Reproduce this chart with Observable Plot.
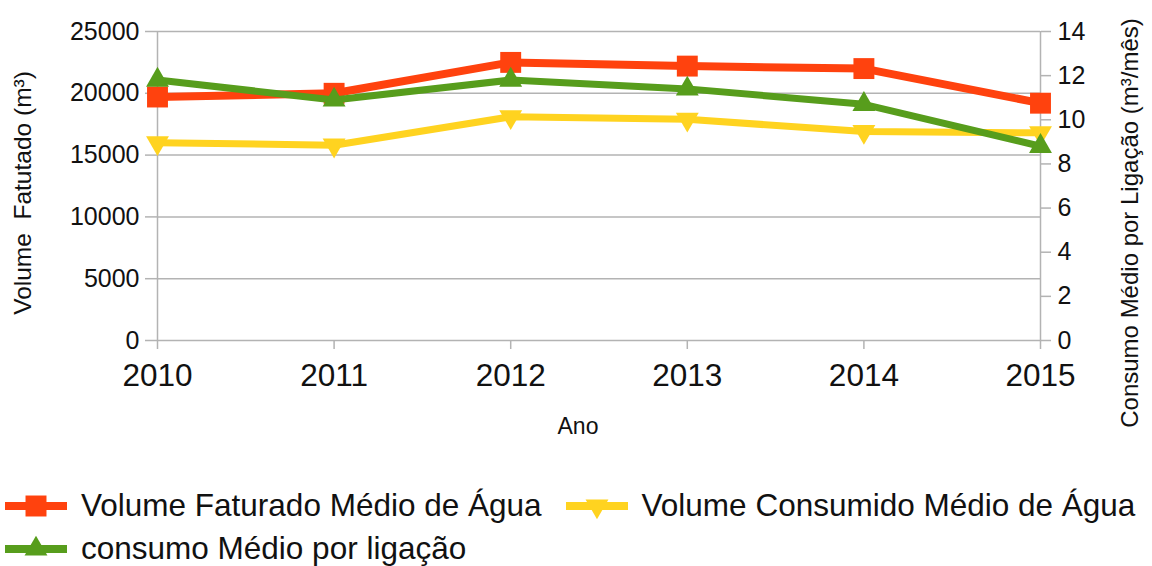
<!DOCTYPE html>
<html>
<head>
<meta charset="utf-8">
<script src="https://cdn.jsdelivr.net/npm/d3@7"></script>
<script src="https://cdn.jsdelivr.net/npm/@observablehq/plot@0.6"></script>
<style>
  html, body { margin: 0; padding: 0; background: #fff; }
  body { width: 1152px; height: 566px; overflow: hidden; font-family: "Liberation Sans", Arial, sans-serif; }
  #legend { padding-top: 14px; padding-left: 5px; }
  .row { display: flex; align-items: center; height: 43px; }
  .item { display: flex; align-items: center; margin-right: 24px; }
  .item svg { display: block; }
  .item span { font-size: 31.5px; color: #111; margin-left: 14px; white-space: nowrap; }
</style>
</head>
<body>
<div id="chart"></div>
<div id="legend"></div>
<script>
// ---- data ----
const years = [2010, 2011, 2012, 2013, 2014, 2015];
const volumeFaturado = [19700, 20000, 22500, 22200, 22000, 19200];   // m³ (left axis)
const volumeConsumido = [16000, 15800, 18100, 17900, 16900, 16800];  // m³ (left axis)
const consumoLigacao = [11.8, 10.9, 11.8, 11.4, 10.7, 8.8];          // m³/mês (right axis)
const leftTicks = [0, 5000, 10000, 15000, 20000, 25000];
const rightTicks = [0, 2, 4, 6, 8, 10, 12, 14];
const seriesNames = ["Volume Faturado Médio de Água", "Volume Consumido Médio de Água", "consumo Médio por ligação"];
const colors = ["#ff420e", "#ffd320", "#579d1c"];
const xLabel = "Ano";
const yLeftLabel = "Volume  Fatutado (m³)";
const yRightLabel = "Consumo Médio por Ligação (m³/mês)";

const leftMax = 25000, rightMax = 14;
const toLeft = v => v * leftMax / rightMax;

const faturado = years.map((x, i) => ({x, y: volumeFaturado[i]}));
const consumido = years.map((x, i) => ({x, y: volumeConsumido[i]}));
const ligacao = years.map((x, i) => ({x, y: toLeft(consumoLigacao[i])}));

const gray = "#b3b3b3";
const ink = "#111";
const W = 1152, H = 470;

const chart = Plot.plot({
  width: W,
  height: H,
  marginLeft: 157,
  marginRight: 112,
  marginTop: 31,
  marginBottom: H - 340,
  style: {fontFamily: "'Liberation Sans', Arial, sans-serif", background: "#fff", color: ink},
  x: {domain: d3.extent(years)},
  y: {domain: [0, leftMax]},
  marks: [
    Plot.gridY(leftTicks, {stroke: gray, strokeOpacity: 1, strokeWidth: 1.5}),
    Plot.ruleX(d3.extent(years), {stroke: gray, strokeWidth: 1.5}),
    Plot.axisX(years, {tickFormat: "d", tickSize: 9, tickPadding: 14, fontSize: 31.5, stroke: gray, strokeWidth: 1.5, fill: ink, label: null}),
    Plot.axisY(leftTicks, {anchor: "left", tickSize: 12, tickPadding: 6, fontSize: 25, stroke: gray, strokeWidth: 1.5, fill: ink,
      tickFormat: d => String(d), label: null}),
    Plot.axisY(rightTicks.map(toLeft), {anchor: "right", tickSize: 10, tickPadding: 7, fontSize: 25, stroke: gray, strokeWidth: 1.5, fill: ink,
      tickFormat: d => String(Math.round(d * rightMax / leftMax)), label: null}),
    Plot.text([xLabel], {frameAnchor: "bottom", text: d => d, fontSize: 23, fill: ink, textAnchor: "middle", lineAnchor: "middle", dy: 86, dx: -21}),
    Plot.text([yLeftLabel], {frameAnchor: "left", text: d => d, fontSize: 24.5, fill: ink, rotate: -90, textAnchor: "middle", lineAnchor: "middle", dx: -134, dy: 7}),
    Plot.text([yRightLabel], {frameAnchor: "right", text: d => d, fontSize: 24, fill: ink, rotate: -90, textAnchor: "middle", lineAnchor: "middle", dx: 90, dy: 37}),
    Plot.line(faturado, {x: "x", y: "y", stroke: colors[0], strokeWidth: 8}),
    Plot.dot(faturado, {x: "x", y: "y", symbol: "square", r: 11.8, fill: colors[0], stroke: "none"}),
    Plot.line(consumido, {x: "x", y: "y", stroke: colors[1], strokeWidth: 7}),
    Plot.dot(consumido, {x: "x", y: "y", symbol: "triangle", rotate: 180, r: 8.5, fill: colors[1], stroke: "none"}),
    Plot.line(ligacao, {x: "x", y: "y", stroke: colors[2], strokeWidth: 7}),
    Plot.dot(ligacao, {x: "x", y: "y", symbol: "triangle", r: 8.5, fill: colors[2], stroke: "none"})
  ]
});
document.getElementById("chart").appendChild(chart);

// ---- legend ----
const symbols = [d3.symbolSquare, d3.symbolTriangle, d3.symbolTriangle];
const rot = [0, 180, 0];
const sizes = [440, 227, 227];
const legend = d3.select("#legend");
const rows = [[0, 1], [2]];
rows.forEach(r => {
  const row = legend.append("div").attr("class", "row");
  r.forEach(i => {
    const item = row.append("div").attr("class", "item");
    const s = item.append("svg").attr("width", 62).attr("height", 30);
    s.append("line").attr("x1", 0).attr("x2", 62).attr("y1", 15).attr("y2", 15)
      .attr("stroke", colors[i]).attr("stroke-width", 8);
    s.append("path").attr("d", d3.symbol(symbols[i], sizes[i])())
      .attr("transform", `translate(31,15) rotate(${rot[i]})`).attr("fill", colors[i]);
    item.append("span").text(seriesNames[i]);
  });
});
</script>
</body>
</html>
